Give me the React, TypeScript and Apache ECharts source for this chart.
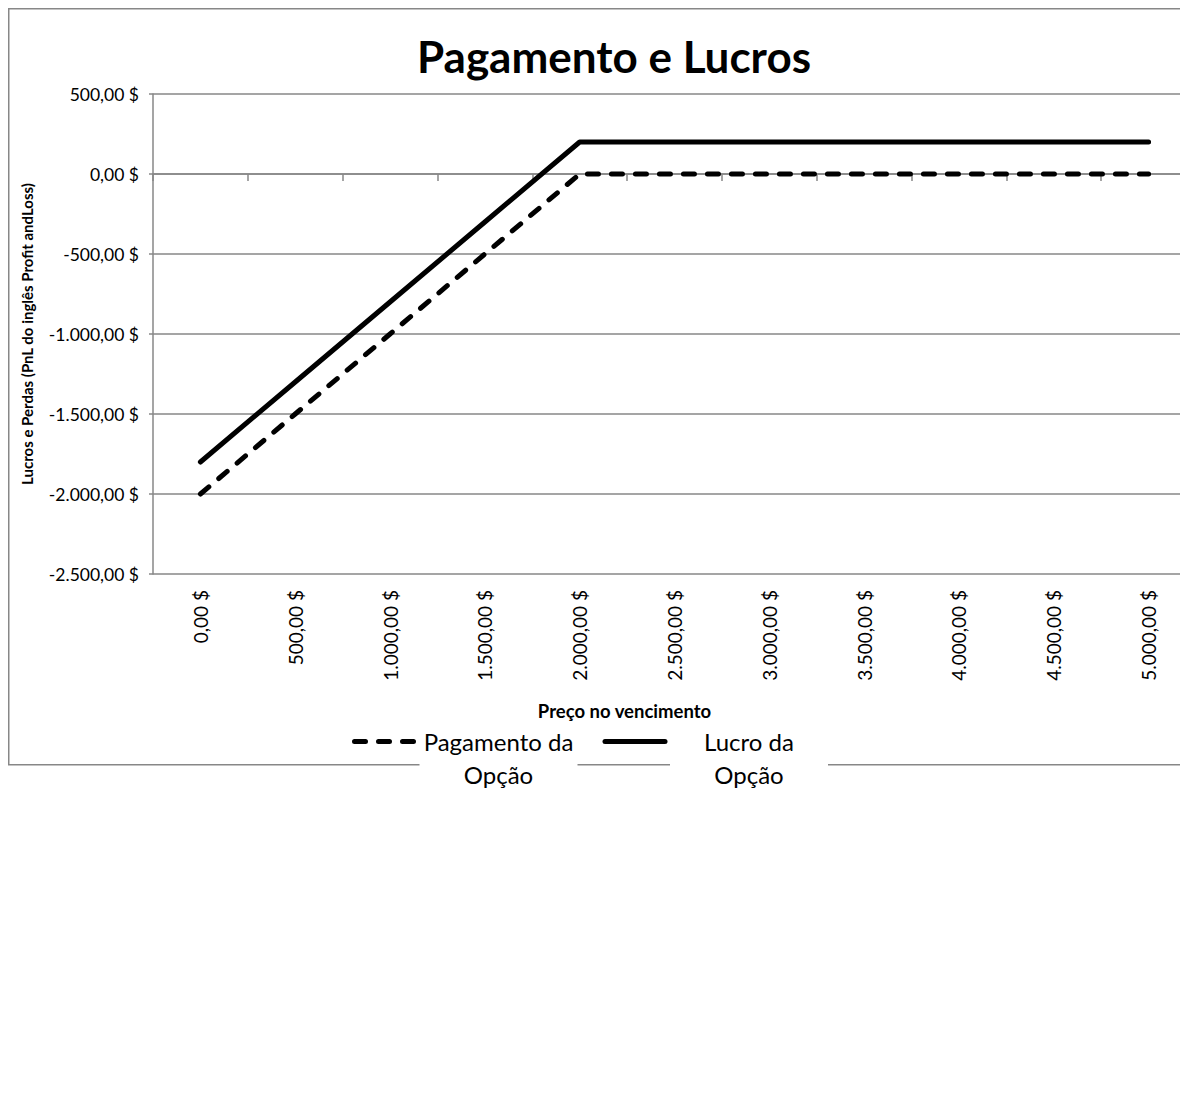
import React, { useEffect, useRef } from "react";
import * as echarts from "echarts";

const prices = [0, 500, 1000, 1500, 2000, 2500, 3000, 3500, 4000, 4500, 5000];
const payoff = [-2000, -1500, -1000, -500, 0, 0, 0, 0, 0, 0, 0];
const profit = [-1800, -1300, -800, -300, 200, 200, 200, 200, 200, 200, 200];
const yMin = -2500;
const yMax = 500;
const yStep = 500;

const titleText = "Pagamento e Lucros";
const yName = "Lucros e Perdas (PnL do inglês Profit andLoss)";
const xName = "Preço no vencimento";
const payoffName = "Pagamento da Opção";
const profitName = "Lucro da Opção";

function money(v: number): string {
  const neg = v < 0;
  const a = Math.round(Math.abs(v));
  const s = String(a).replace(/\B(?=(\d{3})+(?!\d))/g, ".");
  return (neg ? "-" : "") + s + ",00 $";
}

const FONT = "Lato";
const GRAY = "#878787";

export default function App() {
  const ref = useRef<HTMLDivElement>(null);
  useEffect(() => {
    if (!ref.current) return;
    const chart = echarts.init(ref.current, null, { renderer: "svg" });
    const cats = prices.map(money);
    const LH = 33;
    chart.setOption({
      animation: false,
      textStyle: { fontFamily: FONT },
      title: {
        text: titleText,
        left: "center",
        top: 21,
        textStyle: { fontFamily: FONT, fontWeight: "bold", fontSize: 44, color: "#000" },
      },
      graphic: [
        {
          type: "rect",
          z: -10,
          shape: { x: 0.75, y: 0.75, width: 1212 - 1.5, height: 756 },
          style: { fill: "none", stroke: GRAY, lineWidth: 1.5 },
        },
      ],
      grid: { left: 145, top: 86, width: 1043, height: 480, containLabel: false },
      legend: {
        left: 344,
        top: 684,
        padding: 0,
        itemWidth: 60,
        itemHeight: 12,
        itemGap: 25,
        lineStyle: { width: 5, opacity: 1, cap: "round" },
        itemStyle: { opacity: 0, borderWidth: 0 },
        data: [payoffName, profitName],
        formatter: (name: string) => {
          const parts = name.split(" ");
          const last = parts.pop();
          return "{a|" + parts.join(" ") + "}\n{b|" + last + "}";
        },
        textStyle: {
          fontFamily: FONT,
          fontSize: 24,
          lineHeight: LH,
          color: "#000",
          padding: [LH, 0, 0, 0],
          rich: {
            a: { fontFamily: FONT, fontSize: 24, lineHeight: LH, width: 158, align: "center", color: "#000" },
            b: {
              fontFamily: FONT,
              fontSize: 24,
              lineHeight: LH,
              width: 158,
              align: "center",
              color: "#000",
              backgroundColor: "#fff",
            },
          },
        },
      },
      xAxis: [
        {
          type: "category",
          data: cats,
          position: "bottom",
          boundaryGap: true,
          axisLine: { show: true, onZero: true, lineStyle: { color: GRAY, width: 1.5 } },
          axisTick: { show: true, length: 7, alignWithLabel: false, lineStyle: { color: GRAY, width: 1.5 } },
          axisLabel: { show: false },
          splitLine: { show: false },
        },
        {
          type: "category",
          data: cats,
          position: "bottom",
          boundaryGap: true,
          axisLine: { show: false, onZero: false },
          axisTick: { show: false },
          splitLine: { show: false },
          axisLabel: {
            rotate: 90,
            margin: 16,
            fontFamily: FONT,
            fontSize: 19,
            color: "#000",
          },
          name: xName,
          nameLocation: "middle",
          nameGap: 127,
          nameTextStyle: {
            fontFamily: FONT,
            fontWeight: "bold",
            fontSize: 18.5,
            color: "#000",
            padding: [0, 100, 0, 0],
          },
        },
      ],
      yAxis: {
        type: "value",
        min: yMin,
        max: yMax,
        interval: yStep,
        axisLine: { show: true, lineStyle: { color: GRAY, width: 1.5 } },
        axisTick: { show: true, length: 4, lineStyle: { color: GRAY, width: 1.5 } },
        splitLine: { show: true, lineStyle: { color: GRAY, width: 1.5 } },
        axisLabel: {
          formatter: (v: number) => money(v),
          margin: 14,
          fontFamily: FONT,
          fontSize: 17.5,
          color: "#000",
        },
        name: yName,
        nameLocation: "middle",
        nameGap: 119,
        nameRotate: 90,
        nameTextStyle: { fontFamily: FONT, fontWeight: "bold", fontSize: 15, color: "#000" },
      },
      series: [
        {
          name: payoffName,
          type: "line",
          xAxisIndex: 0,
          data: payoff,
          symbol: "none",
          lineStyle: { color: "#000", width: 5, type: [11, 13], cap: "round" },
          itemStyle: { color: "#000" },
        },
        {
          name: profitName,
          type: "line",
          xAxisIndex: 0,
          data: profit,
          symbol: "none",
          lineStyle: { color: "#000", width: 5, type: "solid", cap: "round" },
          itemStyle: { color: "#000" },
        },
      ],
    });
    return () => chart.dispose();
  }, []);
  return (
    <div style={{ width: 1180, overflow: "hidden" }}>
      <div ref={ref} style={{ width: 1212, height: 810 }} />
    </div>
  );
}
